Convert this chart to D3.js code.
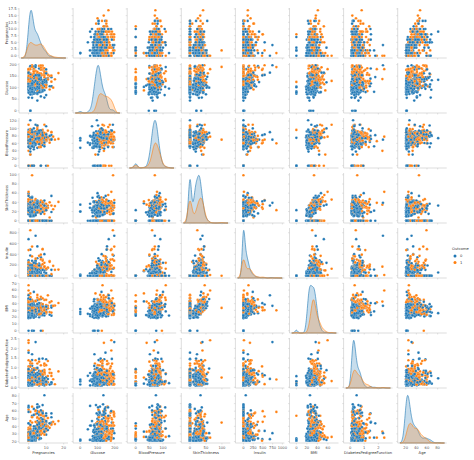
<!DOCTYPE html>
<html><head><meta charset="utf-8">
<script src="https://cdn.jsdelivr.net/npm/d3@7"></script>
<style>body{margin:0;background:#fff}svg{display:block}text{font-family:"DejaVu Sans",sans-serif}</style>
</head><body><svg id="c" width="474" height="460"></svg>
<script>
const varNames=["Pregnancies","Glucose","BloodPressure","SkinThickness","Insulin","BMI","DiabetesPedigreeFunction","Age"];
const Pregnancies=[6,1,8,1,0,5,3,10,2,8, 4,10,10,1,5,7,0,7,1,1, 3,8,7,9,11,10,7,1,13,5, 5,3,3,6,10,4,11,9,2,4, 3,7,7,9,7,0,1,2,7,7, 1,1,5,8,7,1,7,0,0,0, 2,8,5,2,7,5,0,2,1,4, 2,5,13,4,1,1,7,5,0,2, 3,2,7,0,5,2,13,2,15,1, 1,4,7,4,2,6,2,1,6,1, 1,1,0,1,2,1,1,4,3,0, 3,8,1,4,7,4,5,5,4,4, 0,6,2,5,0,1,3,1,1,0, 4,9,3,8,2,2,0,0,0,5, 3,5,2,10,4,0,9,2,5,2, 1,4,9,1,8,7,2,1,2,17, 4,7,0,2,0,6,3,4,4,3, 6,6,2,1,2,8,6,0,5,5, 6,0,1,5,4,7,8,1,8,5, 3,9,7,11,8,5,1,3,4,4, 0,1,0,2,6,5,8,5,1,7, 2,0,7,0,9,12,5,6,5,5, 0,2,7,7,1,1,0,3,4,0, 4,6,1,4,3,4,7,0,9,0, 1,4,3,6,2,9,10,0,9,1, 9,2,2,0,12,1,3,2,1,11, 3,3,4,3,4,5,0,2,0,2, 10,2,3,1,13,2,7,0,5,2, 0,10,7,7,2,7,5,1,4,5, 0,0,2,1,0,6,2,0,14,8, 0,2,5,5,3,2,10,0,0,2, 6,0,2,3,7,2,3,3,3,6, 4,3,0,13,2,1,1,10,2,6, 8,2,1,12,1,0,0,5,9,7, 1,1,1,5,8,8,1,3,3,3, 0,9,1,0,9,10,1,1,6,1, 3,2,4,8,0,2,4,1,6,2, 1,0,5,8,2,5,9,1,7,6, 0,2,6,2,5,2,3,0,1,6, 2,1,4,8,1,2,1,10,6,3, 7,2,5,2,10,2,0,2,2,1];
const Glucose=[148,85,183,89,137,116,78,115,197,125, 110,168,139,189,166,100,118,107,103,115, 126,99,196,119,143,125,147,97,145,117, 109,158,88,92,122,103,138,102,90,111, 180,133,106,171,159,180,146,71,103,105, 103,101,88,176,150,73,187,100,146,105, 84,133,44,141,114,99,109,109,95,146, 100,139,126,129,79,0,62,95,131,112, 113,74,83,101,137,110,106,100,136,107, 80,123,81,134,142,144,92,71,93,122, 163,151,125,81,85,126,96,144,83,95, 171,155,89,76,160,146,124,78,97,99, 162,111,107,132,113,88,120,118,117,105, 173,122,170,84,96,125,100,93,129,105, 128,106,108,108,154,102,57,106,147,90, 136,114,156,153,188,152,99,109,88,163, 151,102,114,100,131,104,148,120,110,111, 102,134,87,79,75,179,85,129,143,130, 87,119,0,73,141,194,181,128,109,139, 111,123,159,135,85,158,105,107,109,148, 113,138,108,99,103,111,196,162,96,184, 81,147,179,140,112,151,109,125,85,112, 177,158,119,142,100,87,101,162,197,117, 142,134,79,122,74,171,181,179,164,104, 91,91,139,119,146,184,122,165,124,111, 106,129,90,86,92,113,111,114,193,155, 191,141,95,142,123,96,138,128,102,146, 101,108,122,71,106,100,106,104,114,108, 146,129,133,161,108,136,155,119,96,108, 78,107,128,128,161,151,146,126,100,112, 167,144,77,115,150,120,161,137,128,124, 80,106,155,113,109,112,99,182,115,194, 129,112,124,152,112,157,122,179,102,105, 118,87,180,106,95,165,117,115,152,178, 130,95,0,122,95,126,139,116,99,173, 57,89,99,141,145,162,147,81,114,121, 80,99,115,91,137,88,189,99,137,83, 109,135,123,100,94,103,134,92,195,162, 151,56,183,90,168,130,169,105,106,154, 82,100,154,100,128,112,126,111,98,123, 187,99,117,122,68,92,180,117,190,97];
const BloodPressure=[72,66,64,66,40,74,50,0,70,96, 92,74,80,60,72,0,84,74,30,70, 88,84,90,80,94,70,76,66,82,92, 75,76,58,92,78,60,76,76,68,72, 64,84,92,110,64,66,56,70,66,0, 80,50,66,90,66,50,68,88,82,64, 0,72,62,58,66,74,88,92,66,85, 66,64,90,86,75,48,78,72,0,66, 44,0,78,65,108,74,72,68,70,68, 55,80,78,72,82,72,62,48,50,90, 72,60,96,72,65,56,122,58,58,85, 72,62,76,62,54,92,74,48,60,76, 76,64,74,80,76,30,70,58,88,84, 70,56,64,74,68,60,70,60,80,72, 78,82,52,66,62,75,80,64,78,70, 74,65,86,82,78,88,52,56,74,72, 90,74,80,64,88,74,66,68,66,90, 82,70,0,60,64,72,78,110,78,82, 80,64,74,60,74,68,68,98,76,80, 62,70,66,0,55,84,58,62,64,60, 80,82,68,70,72,72,76,104,64,84, 60,85,95,65,82,70,62,68,74,66, 60,90,0,60,66,78,76,52,70,80, 86,80,80,68,68,72,84,90,84,76, 64,70,54,50,76,85,68,90,70,86, 52,84,80,68,62,64,56,68,50,76, 68,0,70,80,62,74,0,64,52,0, 86,62,78,78,70,70,60,64,74,62, 70,76,88,86,80,74,84,86,56,72, 88,62,78,48,50,62,70,84,78,72, 0,58,82,98,76,76,68,68,68,68, 66,70,74,50,80,68,80,74,66,78, 60,74,70,90,75,72,64,70,86,70, 72,58,0,80,60,76,0,76,78,84, 70,74,68,86,72,88,46,0,62,78, 60,62,58,84,88,84,94,74,88,78, 0,60,72,82,84,58,110,72,61,66, 38,68,74,76,68,108,74,62,70,62, 90,56,94,60,64,96,74,68,70,74, 52,66,72,74,88,78,60,70,58,100, 50,0,86,76,106,52,78,90,70,70];
const SkinThickness=[35,29,0,23,35,0,32,0,45,0, 0,0,0,23,19,0,47,0,38,30, 41,0,0,35,33,26,0,15,19,0, 26,36,11,0,31,33,0,37,42,47, 25,0,18,24,0,39,0,27,32,0, 11,15,21,34,42,10,39,60,0,41, 0,0,0,34,0,27,30,0,13,27, 20,35,0,20,30,20,0,33,0,22, 13,0,26,28,0,29,54,25,32,19, 0,15,40,0,18,27,28,18,30,51, 0,0,0,18,0,29,0,28,31,25, 33,26,34,0,32,0,0,0,23,15, 56,39,30,0,0,42,30,36,24,0, 14,0,37,31,13,20,26,25,0,29, 0,30,26,0,31,23,37,35,0,17, 50,0,28,42,0,44,15,21,19,41, 38,40,34,23,0,18,25,0,0,12, 0,23,23,42,24,42,0,46,0,0, 0,18,20,0,0,28,36,41,39,35, 0,44,0,0,20,41,0,13,44,27, 16,0,20,16,32,28,29,0,27,33, 22,54,31,26,32,40,41,30,22,0, 29,0,0,33,15,27,0,38,39,31, 0,37,25,0,28,0,21,27,21,0, 24,32,0,22,35,15,0,33,33,19, 0,0,14,32,7,35,39,22,16,28, 15,0,32,15,0,18,0,42,0,0, 37,32,0,50,0,52,24,23,0,10, 0,28,15,0,0,26,44,39,17,43, 29,30,37,45,0,31,38,29,25,0, 0,33,41,0,0,37,23,14,19,28, 30,37,17,10,31,22,11,0,39,0, 12,30,20,33,32,21,32,0,36,32, 19,16,0,0,18,43,0,0,34,0, 13,21,35,0,0,36,19,0,19,39, 0,0,10,26,34,0,41,41,0,39, 0,17,0,0,27,26,31,30,0,23, 18,42,40,0,18,37,33,25,33,0, 46,28,0,0,0,0,19,22,28,32, 22,29,29,40,39,50,0,27,33,35, 33,0,30,27,23,0,63,19,99,40];
const Insulin=[0,0,0,94,168,0,88,0,543,0, 0,0,0,846,175,0,230,0,83,96, 235,0,0,0,146,115,0,140,110,0, 0,245,54,0,0,192,0,0,0,207, 70,0,0,240,0,0,0,0,0,0, 82,36,23,300,342,0,304,110,0,142, 0,0,0,128,0,0,0,0,38,100, 90,140,0,270,0,0,0,0,0,0, 0,0,71,0,0,125,0,71,110,0, 0,176,48,0,64,228,0,76,64,220, 0,0,0,40,0,152,0,140,18,36, 135,495,37,0,175,0,0,0,0,51, 100,0,100,0,0,99,135,94,145,0, 168,0,225,0,49,140,50,92,0,325, 0,0,63,0,284,0,0,119,0,0, 204,0,155,485,0,0,94,135,53,114, 0,105,285,0,0,156,0,0,0,78, 0,130,0,48,55,130,0,130,0,0, 0,92,23,0,0,0,495,58,114,160, 0,94,0,0,0,210,0,48,99,318, 0,0,0,44,190,0,280,0,87,0, 0,0,0,130,175,271,129,120,0,0, 478,0,0,190,56,32,0,0,744,53, 0,370,37,0,45,0,192,0,0,0, 0,88,0,176,194,0,0,680,402,0, 0,0,55,0,258,0,0,0,375,150, 130,0,0,0,0,67,0,0,0,0, 0,56,0,45,0,57,0,116,0,278, 0,122,155,0,0,135,545,220,49,75, 40,74,182,194,0,120,360,215,184,0, 0,135,42,0,0,105,132,148,180,205, 0,148,96,85,0,94,64,0,140,0, 231,0,0,29,0,168,156,0,120,68, 0,52,0,0,58,255,0,0,171,0, 105,73,0,0,0,108,83,0,74,185, 0,0,0,0,165,0,0,57,0,74, 0,160,0,0,0,16,0,18,0,50, 120,250,77,0,76,0,60,41,145,0, 0,45,0,0,0,0,125,0,135,193, 115,196,126,215,110,140,0,0,190,240, 392,0,105,200,49,0,14,71,0,0];
const BMI=[33.6,26.6,23.3,28.1,43.1,25.6,31,35.3,30.5,0, 37.6,38,27.1,30.1,25.8,30,45.8,29.6,43.3,34.6, 39.3,35.4,39.8,29,36.6,31.1,39.4,23.2,22.2,34.1, 36,31.6,24.8,19.9,27.6,24,33.2,32.9,38.2,37.1, 34,40.2,22.7,45.4,27.4,42,29.7,28,39.1,0, 19.4,24.2,24.4,33.7,34.7,23,37.7,46.8,40.5,41.5, 0,32.9,25,25.4,32.8,29,32.5,42.7,19.6,28.9, 32.9,28.6,43.4,35.1,32,24.7,32.6,37.7,43.2,25, 22.4,0,29.3,24.6,48.8,32.4,36.6,38.5,37.1,26.5, 19.1,32,46.7,23.8,24.7,33.9,31.6,20.4,28.7,49.7, 39,26.1,22.5,26.6,39.6,28.7,22.4,29.5,34.3,37.4, 33.3,34,31.2,34,30.5,31.2,34,33.7,28.2,23.2, 53.2,34.2,33.6,26.8,33.3,55,42.9,33.3,34.5,27.9, 29.7,33.3,34.5,38.3,21.1,33.8,30.8,28.7,31.2,36.9, 21.1,39.5,32.5,32.4,32.8,0,32.8,30.5,33.7,27.3, 37.4,21.9,34.3,40.6,47.9,50,24.6,25.2,29,40.9, 29.7,37.2,44.2,29.7,31.6,29.9,32.5,29.6,31.9,28.4, 30.8,35.4,28.9,43.5,29.7,32.7,31.2,67.1,45,39.1, 23.2,34.9,27.7,26.8,27.6,35.9,30.1,32,27.9,31.6, 22.6,33.1,30.4,52.3,24.4,39.4,24.3,22.9,34.8,30.9, 31,40.1,27.3,20.4,37.7,23.9,37.5,37.7,33.2,35.5, 27.7,42.8,34.2,42.6,34.2,41.8,35.8,30,29,37.8, 34.6,31.6,25.2,28.8,23.6,34.6,35.7,37.2,36.7,45.2, 44,46.2,25.4,35,29.7,43.6,35.9,44.1,30.8,18.4, 29.2,33.1,25.6,27.1,38.2,30,31.2,52.3,35.4,30.1, 31.2,28,24.4,35.8,27.6,33.6,30.1,28.7,25.9,33.3, 30.9,30,32.1,32.4,32,33.6,36.3,40,25.1,27.5, 45.6,25.2,23,33.2,34.2,40.5,26.5,27.8,24.9,25.3, 37.9,35.9,32.4,30.4,27,26,38.7,45.6,20.8,36.1, 36.9,36.6,43.3,40.5,21.9,35.5,28,30.7,36.6,23.6, 32.3,31.6,35.8,52.9,21,39.7,25.5,24.8,30.5,32.9, 26.2,39.4,26.6,29.5,35.9,34.1,19.3,30.5,38.1,23.5, 27.5,31.6,27.4,26.8,35.7,25.6,35.1,35.1,45.5,30.8, 23.1,32.7,43.3,23.6,23.9,47.9,33.8,31.2,34.2,39.9, 25.9,25.9,32,34.7,36.8,38.5,28.7,23.5,21.8,33.8, 21.7,22.5,25.4,32.4,30.3,27.7,49.3,46.3,27.8,39, 0,36.6,28.9,35.6,27.3,28.4,28.5,38.6,24.2,32.2, 23.1,42.3,34.1,38.7,26,39.2,25.9,19.5,25.1,24.3, 42.1,24.2,40.8,23.5,32.9,22.6,29.9,20,34.2,29.3, 28.5,32,31.3,39.4,36.5,39.4,30.1,27.5,34,57.3, 33.9,22.2,39.1,35.9,35.5,30.1,59.4,25.2,33.6,38.1];
const DiabetesPedigreeFunction=[.627,.351,.672,.167,2.288,.201,.248,.134,.158,.232, .191,.537,1.441,.398,.587,.484,.551,.254,.183,.529, .704,.388,.451,.263,.254,.205,.257,.487,.245,.337, .546,.851,.267,.188,.512,.966,.42,.665,.503,1.39, .271,.696,.235,.721,.294,1.893,.564,.586,.344,.305, .491,.526,.342,.467,.718,.248,.254,.962,1.781,.173, .304,.27,.587,.699,.258,.203,.855,.845,.334,.189, .867,.411,.583,.231,.396,.14,.391,.37,.27,.307, .14,.102,.767,.237,.227,.698,.178,.324,.153,.165, .258,.443,.261,.277,.761,.255,.13,.323,.356,.325, 1.222,.179,.262,.283,.93,.801,.207,.287,.336,.247, .199,.543,.192,.391,.588,.539,.22,.654,.443,.223, .759,.26,.404,.186,.278,.496,.452,.261,.403,.741, .361,1.114,.356,.457,.647,.088,.597,.532,.703,.159, .268,.286,.318,.272,.237,.572,.096,1.4,.218,.085, .399,.432,1.189,.687,.137,.337,.637,.833,.229,.817, .294,.204,.167,.368,.743,.722,.256,.709,.471,.495, .18,.542,.773,.678,.37,.719,.382,.319,.19,.956, .084,.725,.299,.268,.244,.745,.615,1.321,.64,.361, .142,.374,.383,.578,.136,.395,.187,.678,.905,.15, .874,.236,.787,.235,.324,.407,.605,.151,.289,.355, .29,.375,.164,.431,.26,.742,.514,.464,1.224,.261, 1.072,.805,.209,.687,.666,.101,.198,.652,2.329,.089, .645,.238,.583,.394,.293,.479,.586,.686,.831,.582, .192,.446,.402,1.318,.329,1.213,.258,.427,.282,.143, .38,.284,.249,.238,.926,.543,.557,.092,.655,1.353, .299,.761,.612,.2,.226,.997,.933,1.101,.078,.24, 1.136,.128,.254,.422,.251,.677,.296,.454,.744,.881, .334,.28,.262,.165,.259,.647,.619,.808,.34,.263, .434,.757,1.224,.613,.254,.692,.337,.52,.412,.84, .839,.422,.156,.209,.207,.215,.326,.143,1.391,.875, .313,.605,.433,.626,1.127,.315,.284,.345,.15,.129, .527,.197,.254,.731,.148,.123,.692,.2,.127,.122, 1.476,.166,.282,.137,.26,.259,.932,.343,.893,.331, .472,.673,.389,.29,.485,.349,.654,.187,.279,.97, .735,.142,.551,.433,.771,.182,.358,1.096,.247,.261, .174,.453,.376,.587,.231,.766,.68,.412,.151,.497, .407,.365,.269,.19,.561,.305,.46,.482,.163,.178, .371,.332,1.461,.191,.135,.268,.268,.236,.142,.839, 1.699,.444,.338,.661,1.057,.175,.349,.141,.43,.88, .826,.108,.251,.483,.285,.141,2.42,.313,.5,.218];
const Age=[50,31,32,21,33,30,26,29,53,54, 30,34,57,59,51,32,31,31,33,32, 27,50,41,29,51,41,43,22,57,38, 60,28,22,28,45,33,35,46,27,56, 26,37,48,54,40,25,29,22,31,24, 22,26,30,58,42,21,41,31,44,22, 21,39,36,24,42,32,38,54,25,27, 28,26,42,23,22,22,41,27,26,24, 22,22,36,22,37,27,45,26,43,24, 21,34,42,60,21,40,24,22,23,31, 33,22,21,24,27,21,27,37,25,24, 24,46,23,25,39,61,38,25,22,21, 25,24,23,69,23,26,30,23,40,62, 33,33,30,39,26,31,21,22,29,28, 55,38,22,42,23,21,41,34,65,22, 24,37,42,23,43,36,21,23,22,47, 36,45,27,21,32,41,22,34,29,29, 36,29,25,23,33,36,42,26,47,37, 32,23,21,27,40,41,60,33,31,25, 21,40,36,40,42,29,21,23,26,29, 21,28,32,27,55,27,57,52,21,41, 25,24,60,24,36,38,25,32,32,41, 21,66,37,61,26,22,26,24,31,24, 22,46,22,29,23,26,51,23,32,27, 21,22,22,33,29,49,41,23,34,23, 42,27,24,25,44,21,30,25,24,51, 34,27,24,63,35,43,25,24,21,28, 38,21,40,21,52,25,29,23,57,22, 28,39,37,47,52,51,34,29,26,33, 21,25,31,24,65,28,29,24,46,58, 30,25,35,28,37,29,47,21,25,30, 41,22,27,25,43,26,30,29,28,59, 31,25,36,43,21,24,30,37,23,37, 46,25,41,44,22,26,44,44,33,41, 22,36,22,33,57,49,22,23,26,31, 67,33,21,22,53,54,27,32,66,28, 22,21,46,68,59,22,37,21,55,22, 26,24,28,42,21,65,81,25,55,50, 21,22,45,25,41,21,31,22,22,39, 25,42,37,43,37,24,47,40,43,22, 34,23,42,26,47,22,25,21,45,30];
const Outcome=[1,0,1,0,1,0,1,0,1,1, 0,1,0,1,1,1,1,1,0,1, 0,0,1,1,1,1,1,0,0,0, 0,1,0,0,0,0,0,1,1,1, 0,0,0,1,0,1,0,0,1,0, 0,0,0,1,0,0,1,0,0,0, 0,1,0,0,1,0,1,0,0,0, 1,0,1,0,0,0,0,0,1,0, 0,0,0,0,1,0,0,0,1,0, 0,0,0,1,0,0,0,0,0,1, 1,0,0,0,0,0,0,0,0,1, 1,1,0,0,1,1,1,0,0,0, 1,0,0,0,1,1,0,0,1,1, 1,1,1,0,0,0,0,0,0,0, 0,0,0,1,0,0,0,0,0,0, 0,0,1,0,1,1,0,0,0,1, 0,0,0,0,1,1,0,0,0,0, 1,1,0,0,0,1,0,1,0,1, 0,0,0,0,0,1,1,1,1,1, 0,0,1,1,0,1,0,1,1,1, 0,0,0,0,0,0,1,1,0,1, 0,0,0,1,1,1,1,0,1,1, 1,1,0,0,0,0,0,1,0,0, 1,1,0,0,0,1,1,1,1,0, 0,0,1,1,0,1,0,0,0,0, 0,0,0,0,1,1,0,0,0,1, 0,1,0,0,1,0,1,0,0,1, 1,0,0,0,0,0,1,0,0,0, 1,0,0,1,1,0,0,1,0,0, 0,1,1,1,0,0,1,0,1,0, 1,1,0,1,0,0,1,0,1,1, 0,0,1,0,1,0,0,1,0,1, 0,1,1,1,0,0,1,0,1,0, 0,0,1,0,0,0,0,1,1,1, 0,0,0,0,0,0,0,0,0,1, 0,0,0,0,1,0,1,0,0,0, 0,0,1,0,0,0,0,0,0,0, 0,1,0,0,0,0,0,0,1,1, 1,0,0,0,1,0,1,0,0,0, 0,0,0,1,1,0,1,1,0,0, 1,0,0,0,0,0,1,0,1,0];
const xTicks=[[0,10,20],[0,100,200],[0,50,100],[0,50,100],[0,250,500,750,1000],[0,20,40,60],[0,1,2],[20,40,60,80]];
const yTicks=[[0,2.5,5,7.5,10,12.5,15,17.5],[0,50,100,150,200],[0,20,40,60,80,100,120],[0,20,40,60,80,100],[0,200,400,600,800],[0,10,20,30,40,50,60,70],[0,0.5,1,1.5,2,2.5],[20,30,40,50,60,70,80]];
const hueLevels=[0,1];
const colors=["#1f77b4","#ff7f0e"];

const cols=[Pregnancies,Glucose,BloodPressure,SkinThickness,Insulin,BMI,DiabetesPedigreeFunction,Age];
cols.forEach((c,i)=>{if(c.length!==Outcome.length) throw new Error(varNames[i]+" len "+c.length+" vs "+Outcome.length);});
const N=Outcome.length;
const svg=d3.select("#c");
const X0=19,Y0=8,P=54.1,PY=55,W=49,H=50;
const tickCol="#555",spine="#bbb",fs=3.7;

function bw(arr){return d3.deviation(arr)*Math.pow(arr.length,-0.2);}
const kdeInfo=cols.map(c=>{
  const groups=hueLevels.map(h=>c.filter((v,k)=>Outcome[k]===h));
  const bws=groups.map(bw);
  const lo=d3.min(groups.map((g,i)=>d3.min(g)-3*bws[i]));
  const hi=d3.max(groups.map((g,i)=>d3.max(g)+3*bws[i]));
  return {groups,bws,lo,hi};
});
const xScales=cols.map((c,i)=>{const {lo,hi}=kdeInfo[i];const m=(hi-lo)*0.05;return d3.scaleLinear().domain([lo-m,hi+m]).range([0,W]);});
const yScales=cols.map(c=>{const [a,b]=d3.extent(c);const m=(b-a)*0.05;return d3.scaleLinear().domain([a-m,b+m]).range([H,0]);});

for(let r=0;r<8;r++)for(let q=0;q<8;q++){
  const g=svg.append("g").attr("transform",`translate(${X0+q*P},${Y0+r*PY})`);
  const xs=xScales[q],ys=yScales[r];
  if(r===q){
    const {groups,bws,lo,hi}=kdeInfo[q];
    const grid=d3.range(0,201).map(k=>lo+(hi-lo)*k/200);
    const dens=groups.map((gr,i)=>grid.map(x=>[x,d3.sum(gr,v=>Math.exp(-0.5*((x-v)/bws[i])**2))/(N*bws[i]*Math.sqrt(2*Math.PI))]));
    const mx=d3.max(dens.flat(),d=>d[1]);
    const yd=d3.scaleLinear().domain([0,mx*1.05]).range([H,0]);
    dens.forEach((d,i)=>{
      g.append("path").datum(d).attr("d",d3.area().x(p=>xs(p[0])).y0(H).y1(p=>yd(p[1])))
       .attr("fill",colors[i]).attr("fill-opacity",0.25).attr("stroke",colors[i]).attr("stroke-width",0.6);
    });
  } else {
    const idx=d3.range(N);
    g.selectAll("circle").data(idx).join("circle")
      .attr("cx",k=>xs(cols[q][k])).attr("cy",k=>ys(cols[r][k])).attr("r",1.35)
      .attr("fill",k=>colors[Outcome[k]]).attr("stroke","#fff").attr("stroke-width",0.2);
  }
  g.append("line").attr("x1",0).attr("x2",0).attr("y1",0).attr("y2",H).attr("stroke",spine).attr("stroke-width",0.5);
  g.append("line").attr("x1",0).attr("x2",W).attr("y1",H).attr("y2",H).attr("stroke",spine).attr("stroke-width",0.5);
  xTicks[q].forEach(t=>{g.append("line").attr("x1",xs(t)).attr("x2",xs(t)).attr("y1",H).attr("y2",H+1.5).attr("stroke",spine).attr("stroke-width",0.4);
    if(r===7) g.append("text").attr("x",xs(t)).attr("y",H+5.5).attr("text-anchor","middle").attr("font-size",fs).attr("fill",tickCol).text(t);});
  yTicks[r].forEach(t=>{g.append("line").attr("x1",-1.5).attr("x2",0).attr("y1",ys(t)).attr("y2",ys(t)).attr("stroke",spine).attr("stroke-width",0.4);
    if(q===0) g.append("text").attr("x",-2.5).attr("y",ys(t)+1.3).attr("text-anchor","end").attr("font-size",fs).attr("fill",tickCol).text(r===0||r===6?d3.format(".1f")(t):t);});
  if(r===7) g.append("text").attr("x",W/2).attr("y",H+10.5).attr("text-anchor","middle").attr("font-size",fs).attr("fill","#333").text(varNames[q]);
  if(q===0) g.append("text").attr("transform",`translate(-11.5,${H/2}) rotate(-90)`).attr("text-anchor","middle").attr("font-size",fs).attr("fill","#333").text(varNames[r]);
}
const lg=svg.append("g").attr("transform","translate(452,250)");
lg.append("text").attr("x",0).attr("y",0).attr("font-size",fs).attr("fill","#333").text("Outcome");
hueLevels.forEach((h,i)=>{
  lg.append("circle").attr("cx",3).attr("cy",6+i*6.5).attr("r",1.5).attr("fill",colors[i]);
  lg.append("text").attr("x",8).attr("y",7.3+i*6.5).attr("font-size",fs).attr("fill","#333").text(h);
});
</script></body></html>
